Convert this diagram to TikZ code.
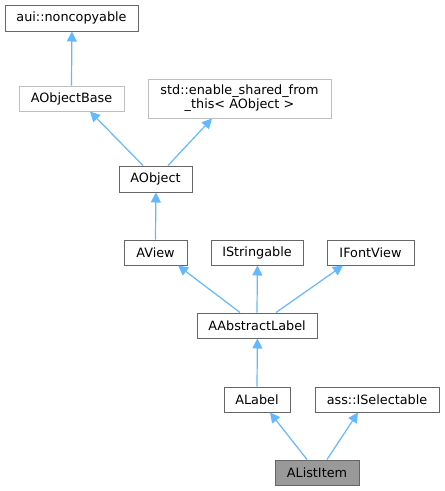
\documentclass[tikz,border=0pt]{standalone}
\usepackage{fontspec}
\setmainfont{DejaVu Sans}
\usetikzlibrary{arrows.meta}
\definecolor{edgeblue}{HTML}{63B8FF}
\definecolor{boxdark}{HTML}{666666}
\definecolor{boxlight}{HTML}{BFBFBF}
\definecolor{boxfill}{HTML}{999999}
\begin{document}
\begin{tikzpicture}[x=1pt,y=-1pt,
  cls/.style={draw=boxdark, line width=1pt, fill=white, inner sep=0pt, font=\fontsize{12.8}{14}\selectfont, align=center},
  ext/.style={cls, draw=boxlight},
  cur/.style={cls, fill=boxfill},
  inh/.style={draw=edgeblue, line width=1.2pt, -{Triangle[length=10pt,width=10pt,fill=edgeblue]}}]
\useasboundingbox (0,0) rectangle (445,491);
\node[cls, minimum width=133pt, minimum height=26pt] (nc) at (71.5,18) {aui::noncopyable};
\node[ext, minimum width=105pt, minimum height=25pt] (aob) at (71.5,98.5) {AObjectBase};
\node[ext, minimum width=183pt, minimum height=39pt] (esf) at (239.5,98.5) {std::enable\_shared\_from\\\_this< AObject >};
\node[cls, minimum width=73pt, minimum height=26pt] (ao) at (155.5,179) {AObject};
\node[cls, minimum width=63pt, minimum height=25pt] (av) at (155.5,252.5) {AView};
\node[cls, minimum width=92pt, minimum height=25pt] (is) at (257,252.5) {IStringable};
\node[cls, minimum width=87pt, minimum height=25pt] (ifv) at (370.5,252.5) {IFontView};
\node[cls, minimum width=120pt, minimum height=25pt] (aal) at (257,325.5) {AAbstractLabel};
\node[cls, minimum width=66pt, minimum height=25pt] (al) at (257,399.5) {ALabel};
\node[cls, minimum width=124pt, minimum height=25pt] (sel) at (377,399.5) {ass::ISelectable};
\node[cur, minimum width=84pt, minimum height=25pt] (ali) at (317,472.5) {AListItem};

\draw[inh] (aob.north) -- ([xshift=0.4pt]nc.south);
\draw[inh] ([xshift=-12.5pt]ao.north) -- (90,111.5);
\draw[inh] ([xshift=12.5pt]ao.north) -- (212,118.5);
\draw[inh] (av.north) -- ([xshift=0.4pt]ao.south);
\draw[inh] ([xshift=-17pt]aal.north) -- (178,265.5);
\draw[inh] (aal.north) -- ([xshift=0.4pt]is.south);
\draw[inh] ([xshift=19pt]aal.north) -- (343,265.5);
\draw[inh] (al.north) -- ([xshift=0.4pt]aal.south);
\draw[inh] ([xshift=-10pt]ali.north) -- (270,412.5);
\draw[inh] ([xshift=10pt]ali.north) -- (358,412.5);
\end{tikzpicture}
\end{document}
